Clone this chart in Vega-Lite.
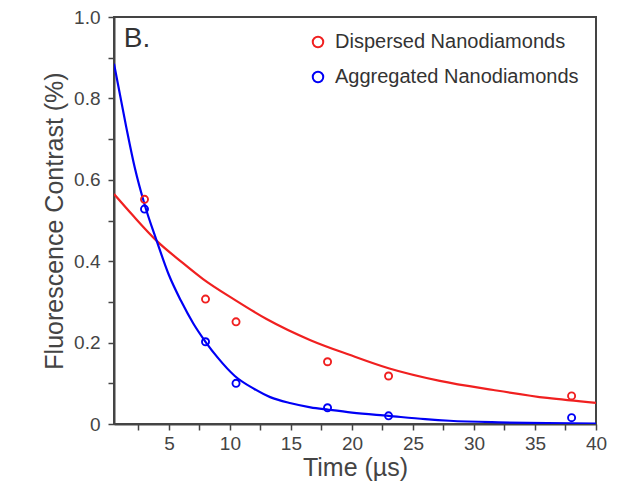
{
  "$schema": "https://vega.github.io/schema/vega-lite/v6.json",
  "width": 482,
  "height": 407,
  "autosize": {"type": "none"},
  "padding": {"left": 114, "top": 17, "right": 25, "bottom": 61},
  "background": "white",
  "config": {
    "font": "Liberation Sans",
    "view": {"stroke": "#444444", "strokeWidth": 2},
    "axis": {
      "grid": false,
      "domainColor": "#444444",
      "domainWidth": 2,
      "tickColor": "#444444",
      "tickWidth": 1.5,
      "tickSize": 6,
      "labelColor": "#444444",
      "labelFont": "Liberation Sans",
      "labelFontSize": 19,
      "titleColor": "#444444",
      "titleFont": "Liberation Sans",
      "titleFontSize": 25,
      "titleFontWeight": "normal",
      "labelOverlap": false,
      "labelFlush": false
    }
  },
  "datasets": {
    "points": [
      {"t": 3, "v": 0.552, "series": "Dispersed Nanodiamonds"},
      {"t": 8, "v": 0.307, "series": "Dispersed Nanodiamonds"},
      {"t": 10.5, "v": 0.251, "series": "Dispersed Nanodiamonds"},
      {"t": 18, "v": 0.153, "series": "Dispersed Nanodiamonds"},
      {"t": 23, "v": 0.118, "series": "Dispersed Nanodiamonds"},
      {"t": 38, "v": 0.069, "series": "Dispersed Nanodiamonds"},
      {"t": 3, "v": 0.528, "series": "Aggregated Nanodiamonds"},
      {"t": 8, "v": 0.202, "series": "Aggregated Nanodiamonds"},
      {"t": 10.5, "v": 0.1, "series": "Aggregated Nanodiamonds"},
      {"t": 18, "v": 0.04, "series": "Aggregated Nanodiamonds"},
      {"t": 23, "v": 0.02, "series": "Aggregated Nanodiamonds"},
      {"t": 38, "v": 0.0155, "series": "Aggregated Nanodiamonds"}
    ],
    "fits": [
      {"t": 0.5, "v": 0.565, "series": "Dispersed Nanodiamonds"},
      {"t": 2, "v": 0.514, "series": "Dispersed Nanodiamonds"},
      {"t": 4, "v": 0.45, "series": "Dispersed Nanodiamonds"},
      {"t": 6, "v": 0.399, "series": "Dispersed Nanodiamonds"},
      {"t": 7.8, "v": 0.356, "series": "Dispersed Nanodiamonds"},
      {"t": 10.4, "v": 0.305, "series": "Dispersed Nanodiamonds"},
      {"t": 13, "v": 0.258, "series": "Dispersed Nanodiamonds"},
      {"t": 16.6, "v": 0.206, "series": "Dispersed Nanodiamonds"},
      {"t": 19.8, "v": 0.17, "series": "Dispersed Nanodiamonds"},
      {"t": 23, "v": 0.137, "series": "Dispersed Nanodiamonds"},
      {"t": 27.2, "v": 0.106, "series": "Dispersed Nanodiamonds"},
      {"t": 31.6, "v": 0.0835, "series": "Dispersed Nanodiamonds"},
      {"t": 36, "v": 0.064, "series": "Dispersed Nanodiamonds"},
      {"t": 40, "v": 0.052, "series": "Dispersed Nanodiamonds"},
      {"t": 0.5, "v": 0.885, "series": "Aggregated Nanodiamonds"},
      {"t": 1.5, "v": 0.73, "series": "Aggregated Nanodiamonds"},
      {"t": 2.2, "v": 0.63, "series": "Aggregated Nanodiamonds"},
      {"t": 3, "v": 0.54, "series": "Aggregated Nanodiamonds"},
      {"t": 4, "v": 0.45, "series": "Aggregated Nanodiamonds"},
      {"t": 5, "v": 0.366, "series": "Aggregated Nanodiamonds"},
      {"t": 6, "v": 0.302, "series": "Aggregated Nanodiamonds"},
      {"t": 7, "v": 0.247, "series": "Aggregated Nanodiamonds"},
      {"t": 8, "v": 0.202, "series": "Aggregated Nanodiamonds"},
      {"t": 9, "v": 0.163, "series": "Aggregated Nanodiamonds"},
      {"t": 10.4, "v": 0.118, "series": "Aggregated Nanodiamonds"},
      {"t": 12, "v": 0.086, "series": "Aggregated Nanodiamonds"},
      {"t": 13.3, "v": 0.066, "series": "Aggregated Nanodiamonds"},
      {"t": 15, "v": 0.051, "series": "Aggregated Nanodiamonds"},
      {"t": 16.6, "v": 0.041, "series": "Aggregated Nanodiamonds"},
      {"t": 18.1, "v": 0.035, "series": "Aggregated Nanodiamonds"},
      {"t": 20, "v": 0.028, "series": "Aggregated Nanodiamonds"},
      {"t": 23, "v": 0.02, "series": "Aggregated Nanodiamonds"},
      {"t": 26, "v": 0.012, "series": "Aggregated Nanodiamonds"},
      {"t": 28, "v": 0.008, "series": "Aggregated Nanodiamonds"},
      {"t": 32, "v": 0.004, "series": "Aggregated Nanodiamonds"},
      {"t": 36, "v": 0.002, "series": "Aggregated Nanodiamonds"},
      {"t": 40, "v": 0.001, "series": "Aggregated Nanodiamonds"}
    ],
    "labels": [
      {"t": 1.3, "v": 0.926, "txt": "B."}
    ]
  },
  "layer": [
    {
      "data": {"name": "fits"},
      "mark": {"type": "line", "interpolate": "monotone", "strokeWidth": 2.2, "clip": true},
      "encoding": {
        "x": {
          "field": "t", "type": "quantitative",
          "scale": {"domain": [0.5, 40], "nice": false, "zero": false},
          "axis": {
            "title": "Time (µs)",
            "values": [2.5, 5, 7.5, 10, 12.5, 15, 17.5, 20, 22.5, 25, 27.5, 30, 32.5, 35, 37.5, 40],
            "tickCount": 40,
            "labelExpr": "round(datum.value * 2) % 10 == 0 ? datum.label : ''",
            "labelPadding": 4,
            "titlePadding": 2
          }
        },
        "y": {
          "field": "v", "type": "quantitative",
          "scale": {"domain": [0, 1], "nice": false},
          "axis": {
            "title": "Fluorescence Contrast (%)",
            "values": [0, 0.1, 0.2, 0.3, 0.4, 0.5, 0.6, 0.7, 0.8, 0.9, 1.0],
            "tickCount": 40,
            "labelExpr": "datum.value === 0 ? '0' : (round(datum.value * 10) % 2 === 0 ? format(datum.value, '.1f') : '')",
            "labelPadding": 8,
            "titleX": -60,
            "titleBaseline": "middle"
          }
        },
        "color": {
          "field": "series", "type": "nominal",
          "scale": {"domain": ["Dispersed Nanodiamonds", "Aggregated Nanodiamonds"], "range": ["#f02020", "#0000f5"]}
        },
        "detail": {"field": "series"}
      }
    },
    {
      "data": {"name": "points"},
      "mark": {"type": "point", "filled": false, "size": 50, "strokeWidth": 1.9, "shape": "circle", "opacity": 1},
      "encoding": {
        "x": {"field": "t", "type": "quantitative"},
        "y": {"field": "v", "type": "quantitative"},
        "color": {
          "field": "series", "type": "nominal",
          "legend": {
            "title": null,
            "orient": "none",
            "legendX": 194,
            "legendY": 15,
            "padding": 0,
            "labelFontSize": 20,
            "labelColor": "#333333",
            "labelFont": "Liberation Sans",
            "labelOffset": 7,
            "labelLimit": 400,
            "symbolSize": 110,
            "symbolStrokeWidth": 2,
            "symbolType": "circle",
            "symbolFillColor": "transparent",
            "symbolOpacity": 1,
            "rowPadding": 15
          }
        }
      }
    },
    {
      "data": {"name": "labels"},
      "mark": {"type": "text", "align": "left", "baseline": "alphabetic", "fontSize": 28, "color": "#333333", "font": "Liberation Sans"},
      "encoding": {
        "x": {"field": "t", "type": "quantitative"},
        "y": {"field": "v", "type": "quantitative"},
        "text": {"field": "txt"}
      }
    }
  ]
}
